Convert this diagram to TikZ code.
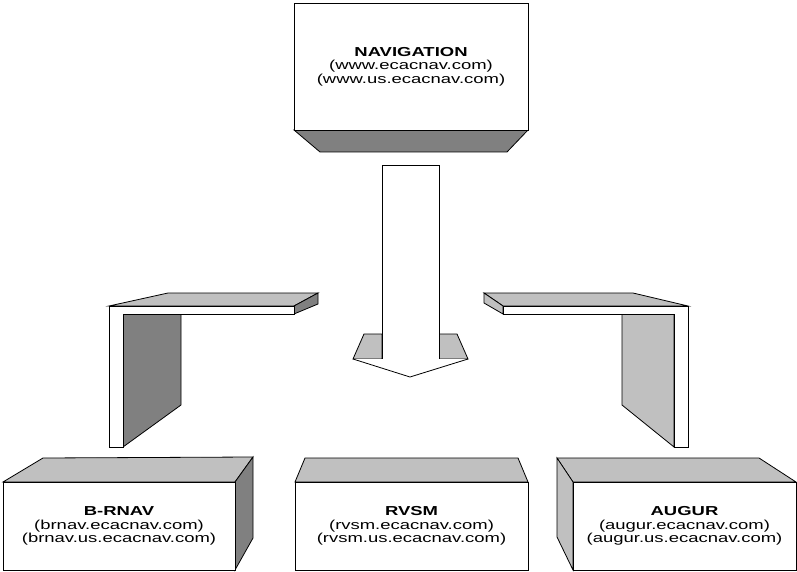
\documentclass[tikz,border=0pt]{standalone}
\usepackage{fontspec}
\setmainfont{Liberation Sans}[FakeStretch=1.42]
\definecolor{darkgr}{HTML}{808080}
\definecolor{lightgr}{HTML}{C0C0C0}
\tikzset{
  edge/.style={draw=black, line width=0.8pt, line join=miter},
  dark/.style={edge, fill=darkgr},
  light/.style={edge, fill=lightgr},
  face/.style={edge, fill=white},
  frontbox/.style={face, align=center, inner sep=0pt, outer sep=0pt,
    font=\fontsize{13}{13.5}\selectfont},
}
\begin{document}
\begin{tikzpicture}[x=1pt,y=-1pt]
\useasboundingbox (0,0) rectangle (797,572);

% NAVIGATION box
\draw[dark] (294,130) -- (528,130) -- (507,152) -- (320,152) -- cycle;
\node[frontbox, minimum width=234pt, minimum height=127pt] (nav) at (411,66.5)
  {\textbf{NAVIGATION}\\(www.ecacnav.com)\\(www.us.ecacnav.com)};

% central arrow
\draw[light] (364,334) -- (382,334) -- (382,359) -- (353,359) -- cycle;
\draw[light] (439,334) -- (457,334) -- (468,359) -- (439,359) -- cycle;
\fill[white] (382,165) rectangle (439,359);
\draw[edge] (382,359) -- (382,165) -- (439,165) -- (439,359);
\draw[face] (353,359) -- (410,377) -- (468,359);

% left connector
\draw[light] (109,306) -- (168,293) -- (318,293) -- (294,306) -- cycle;
\draw[dark] (294,306) -- (318,293) -- (318,304) -- (294,314) -- cycle;
\draw[dark] (123,314) -- (181,314) -- (181,405) -- (123,447) -- cycle;
\draw[face] (109,306) -- (294,306) -- (294,314) -- (123,314) -- (123,447) -- (109,447) -- cycle;

% right connector
\draw[light] (484,293) -- (633,293) -- (688,306) -- (503,306) -- cycle;
\draw[light] (484,293) -- (503,306) -- (503,314) -- (484,303) -- cycle;
\draw[light] (622,314) -- (674,314) -- (674,447) -- (622,405) -- cycle;
\draw[face] (503,306) -- (688,306) -- (688,447) -- (674,447) -- (674,314) -- (503,314) -- cycle;

% B-RNAV box
\draw[light] (3,482) -- (43,458) -- (253,457) -- (235,482) -- cycle;
\draw[dark] (235,482) -- (253,457) -- (253,538) -- (235,570) -- cycle;
\node[frontbox, minimum width=232pt, minimum height=88pt] (brnav) at (119,526)
  {\textbf{B-RNAV}\\(brnav.ecacnav.com)\\(brnav.us.ecacnav.com)};

% RVSM box
\draw[light] (295,482) -- (305,458) -- (518,458) -- (528,482) -- cycle;
\node[frontbox, minimum width=233pt, minimum height=88pt] (rvsm) at (411.5,526)
  {\textbf{RVSM}\\(rvsm.ecacnav.com)\\(rvsm.us.ecacnav.com)};

% AUGUR box
\draw[light] (573,482) -- (557,458) -- (759,458) -- (796,482) -- cycle;
\draw[light] (557,458) -- (573,482) -- (573,570) -- (557,537) -- cycle;
\node[frontbox, minimum width=223pt, minimum height=88pt] (augur) at (684.5,526)
  {\textbf{AUGUR}\\(augur.ecacnav.com)\\(augur.us.ecacnav.com)};
\end{tikzpicture}
\end{document}
